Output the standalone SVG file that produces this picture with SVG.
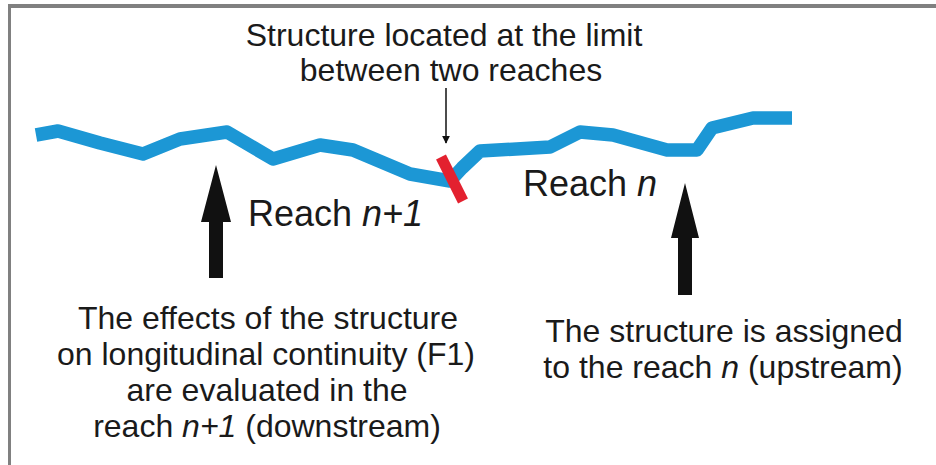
<svg xmlns="http://www.w3.org/2000/svg" width="936" height="465" viewBox="0 0 936 465">
<style>
.t{font-family:"Liberation Sans",Arial,sans-serif;font-size:32px;fill:#1a1a1a}
.r{font-size:36px}
.m{text-anchor:middle}
.i{font-style:italic}
.ar{fill:#111}
</style>
<defs>
<marker id="sa" viewBox="0 0 10 10" refX="9" refY="5" markerWidth="8" markerHeight="8" markerUnits="userSpaceOnUse" orient="auto">
<path d="M0,0 L10,5 L0,10 z" fill="#111"/>
</marker>
</defs>
<rect x="0" y="0" width="936" height="465" fill="#fff"/>
<g id="frame" fill="#808080">
<rect x="8" y="4" width="928" height="4"/>
<rect x="8" y="4" width="3" height="461"/>
</g>
<g id="river">
<path d="M36,135 L58,131 L100,143 L143,154 L180,139 L227,132 L273,159 L320,145 L353,150 L410,174 L450,181 L462,168 L480,151 L550,147 L580,132 L613,135 L667,150 L697,150 L712,128 L753,118 L792,118" fill="none" stroke="#1c97d5" stroke-width="13.5" stroke-linejoin="round"/>
</g>
<g id="structure">
<line x1="441" y1="157" x2="463" y2="201" stroke="#e3212f" stroke-width="11"/>
</g>
<g id="label-structure">
<text class="t m" x="444" y="46">Structure located at the limit</text>
<text class="t m" x="451" y="81">between two reaches</text>
</g>
<g id="label-reach-n1">
<text class="t r" x="248" y="226">Reach <tspan class="i">n+1</tspan></text>
</g>
<g id="label-reach-n">
<text class="t r" x="523" y="196">Reach <tspan class="i">n</tspan></text>
</g>
<g id="label-effects">
<text class="t m" x="268" y="329">The effects of the structure</text>
<text class="t m" x="266" y="365">on longitudinal continuity (F1)</text>
<text class="t m" x="267" y="401">are evaluated in the</text>
<text class="t m" x="267" y="437">reach <tspan class="i">n+1</tspan> (downstream)</text>
</g>
<g id="label-assigned">
<text class="t m" x="724" y="342">The structure is assigned</text>
<text class="t m" x="723" y="378">to the reach <tspan class="i">n</tspan> (upstream)</text>
</g>
<g id="connectors">
<line x1="446" y1="88" x2="446" y2="143" stroke="#111" stroke-width="1.5" marker-end="url(#sa)"/>
<polygon class="ar" points="216,165 231,222 223,222 223,278 209,278 209,222 201,222"/>
<polygon class="ar" points="685,183 699,238 692,238 692,295 678,295 678,238 671,238"/>
</g>
</svg>
